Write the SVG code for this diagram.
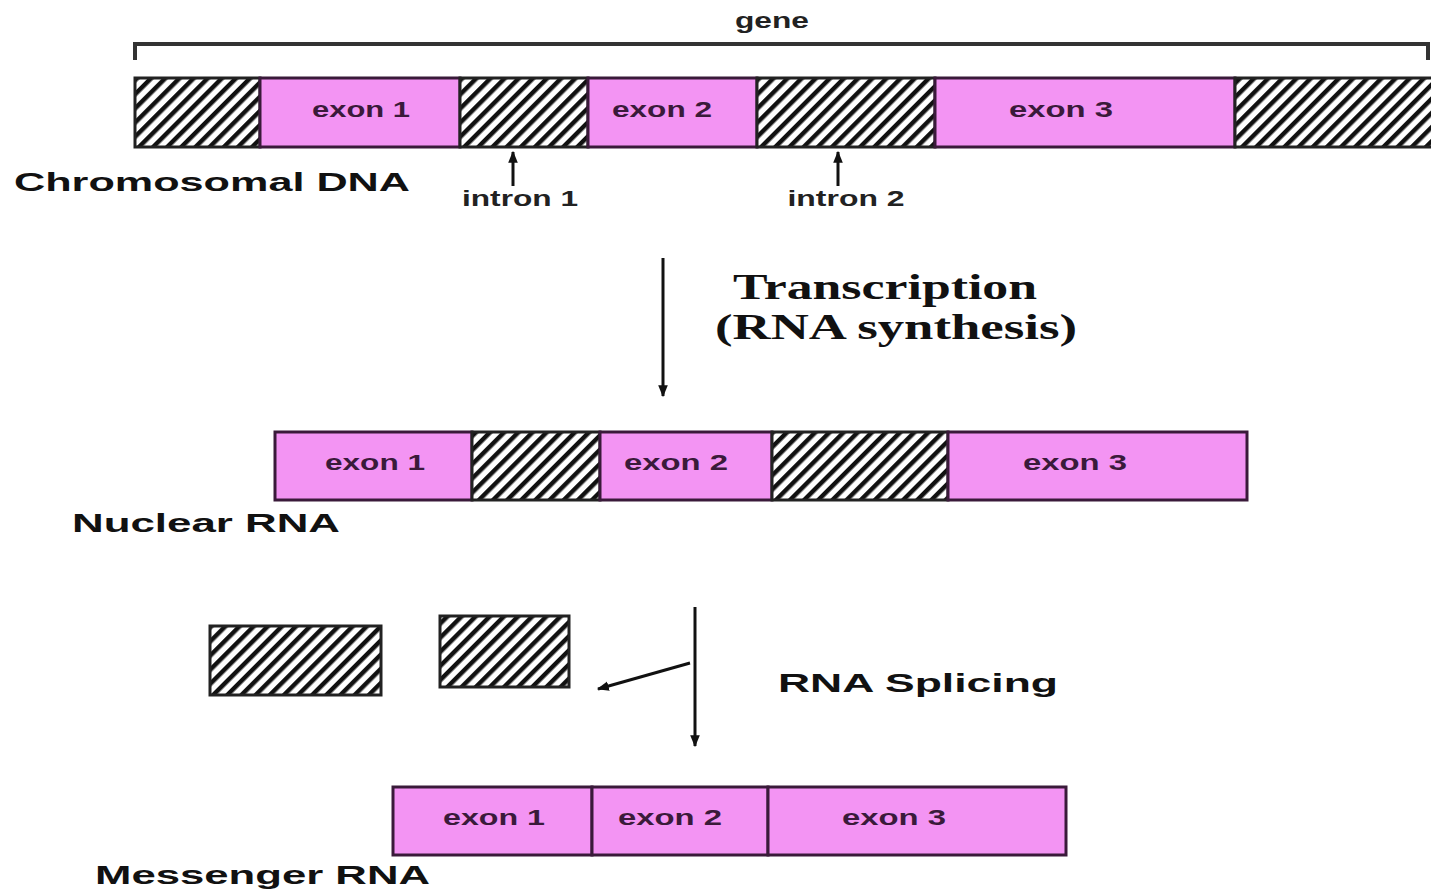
<svg xmlns="http://www.w3.org/2000/svg" width="1431" height="890" viewBox="0 0 1431 890">
<defs>
<pattern id="hatch" patternUnits="userSpaceOnUse" width="10" height="10" patternTransform="rotate(45)">
<rect width="10" height="10" fill="#fff"/>
<rect x="0" y="0" width="4.5" height="10" fill="#111"/>
</pattern>
<marker id="ahs" viewBox="0 0 10 10" refX="9" refY="5" markerWidth="12" markerHeight="12" orient="auto" markerUnits="userSpaceOnUse">
<path d="M0,1 L10,5 L0,9 z" fill="#111"/>
</marker>
</defs>
<style>
.ex{fill:#f394f3;stroke:#3a1a3a;stroke-width:3}
.in{fill:url(#hatch);stroke:#222;stroke-width:3}
.el{font-family:"Liberation Sans",Arial,sans-serif;font-weight:bold;font-size:22px;fill:#3a1a3a;text-anchor:middle}
.lb{font-family:"Liberation Sans",Arial,sans-serif;font-weight:bold;font-size:25px;fill:#111}
.sm{font-family:"Liberation Sans",Arial,sans-serif;font-weight:bold;font-size:22px;fill:#222;text-anchor:middle}
.sf{font-family:"Liberation Serif","Times New Roman",serif;font-weight:bold;font-size:36px;fill:#111;text-anchor:middle}
.ln{stroke:#111;stroke-width:3;fill:none}
</style>
<rect width="1431" height="890" fill="#fff"/>

<g id="gene-bracket">
<path d="M135,60 V44 H1428 V60" fill="none" stroke="#333" stroke-width="4"/>
<text class="sm" x="772" y="28" font-weight="normal" textLength="74" lengthAdjust="spacingAndGlyphs">gene</text>
</g>

<g id="chromosomal-dna">
<rect class="in" x="135" y="78" width="125" height="69"/>
<rect class="ex" x="260" y="78" width="200" height="69"/>
<rect class="in" x="460" y="78" width="128" height="69"/>
<rect class="ex" x="588" y="78" width="169" height="69"/>
<rect class="in" x="757" y="78" width="178" height="69"/>
<rect class="ex" x="935" y="78" width="300" height="69"/>
<rect class="in" x="1235" y="78" width="200" height="69"/>
<text class="el" x="361" y="117" textLength="98" lengthAdjust="spacingAndGlyphs">exon 1</text>
<text class="el" x="662" y="117" textLength="100" lengthAdjust="spacingAndGlyphs">exon 2</text>
<text class="el" x="1061" y="117" textLength="104" lengthAdjust="spacingAndGlyphs">exon 3</text>
<text class="lb" x="14" y="191" textLength="396" lengthAdjust="spacingAndGlyphs">Chromosomal DNA</text>
</g>

<g id="intron-labels">
<text class="sm" x="520" y="206" textLength="116" lengthAdjust="spacingAndGlyphs">intron 1</text>
<text class="sm" x="846" y="206" textLength="117" lengthAdjust="spacingAndGlyphs">intron 2</text>
</g>

<g id="nuclear-rna">
<rect class="ex" x="275" y="432" width="197" height="68"/>
<rect class="in" x="472" y="432" width="128" height="68"/>
<rect class="ex" x="600" y="432" width="172" height="68"/>
<rect class="in" x="772" y="432" width="176" height="68"/>
<rect class="ex" x="948" y="432" width="299" height="68"/>
<text class="el" x="375" y="470" textLength="100" lengthAdjust="spacingAndGlyphs">exon 1</text>
<text class="el" x="676" y="470" textLength="104" lengthAdjust="spacingAndGlyphs">exon 2</text>
<text class="el" x="1075" y="470" textLength="104" lengthAdjust="spacingAndGlyphs">exon 3</text>
<text class="lb" x="72" y="532" textLength="268" lengthAdjust="spacingAndGlyphs">Nuclear RNA</text>
</g>

<g id="removed-introns">
<rect class="in" x="210" y="626" width="171" height="69"/>
<rect class="in" x="440" y="616" width="129" height="71"/>
</g>

<g id="messenger-rna">
<rect class="ex" x="393" y="787" width="199" height="68"/>
<rect class="ex" x="592" y="787" width="176" height="68"/>
<rect class="ex" x="768" y="787" width="298" height="68"/>
<text class="el" x="494" y="825" textLength="102" lengthAdjust="spacingAndGlyphs">exon 1</text>
<text class="el" x="670" y="825" textLength="104" lengthAdjust="spacingAndGlyphs">exon 2</text>
<text class="el" x="894" y="825" textLength="104" lengthAdjust="spacingAndGlyphs">exon 3</text>
<text class="lb" x="95" y="884" textLength="335" lengthAdjust="spacingAndGlyphs">Messenger RNA</text>
</g>

<g id="step-labels">
<text class="sf" x="885" y="299" textLength="304" lengthAdjust="spacingAndGlyphs">Transcription</text>
<text class="sf" x="896" y="339" textLength="362" lengthAdjust="spacingAndGlyphs">(RNA synthesis)</text>
<text class="lb" x="778" y="692" textLength="280" lengthAdjust="spacingAndGlyphs">RNA Splicing</text>
</g>

<g id="connectors">
<line class="ln" x1="513" y1="186" x2="513" y2="152" marker-end="url(#ahs)"/>
<line class="ln" x1="838" y1="186" x2="838" y2="152" marker-end="url(#ahs)"/>
<line class="ln" x1="663" y1="258" x2="663" y2="396" marker-end="url(#ahs)"/>
<line class="ln" x1="695" y1="607" x2="695" y2="746" marker-end="url(#ahs)"/>
<line class="ln" x1="690" y1="663" x2="598" y2="689" stroke-width="2.5" marker-end="url(#ahs)"/>
</g>
</svg>
